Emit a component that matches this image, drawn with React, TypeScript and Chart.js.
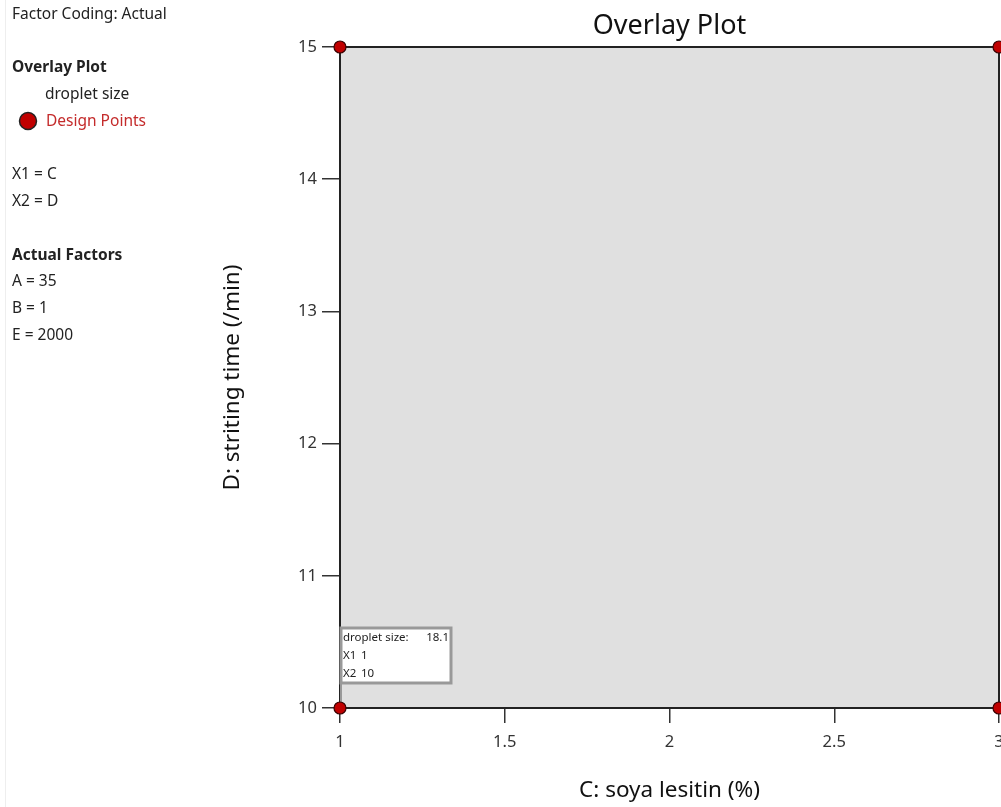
import React, { useEffect, useRef } from "react";
import { Chart, registerables } from "chart.js";

Chart.register(...registerables);

const designX = [1, 1, 3, 3];
const designY = [10, 15, 10, 15];
const xTickMin = 1;
const xTickMax = 3;
const xStep = 0.5;
const yTickMin = 10;
const yTickMax = 15;
const yStep = 1;
const chartTitle = "Overlay Plot";
const xTitle = "C: soya lesitin (%)";
const yTitle = "D: striting time (/min)";
const flagLines = [["droplet size:", "18.1"], ["X1", "1"], ["X2", "10"]];
const flagPoint = { x: 1, y: 10 };
const sideText: { t: string; x: number; y: number; bold?: boolean; red?: boolean }[] = [
  { t: "Factor Coding: Actual", x: 12, y: 15 },
  { t: "Overlay Plot", x: 12, y: 68, bold: true },
  { t: "droplet size", x: 45, y: 95 },
  { t: "Design Points", x: 46, y: 122, red: true },
  { t: "X1 = C", x: 12, y: 175 },
  { t: "X2 = D", x: 12, y: 202 },
  { t: "Actual Factors", x: 12, y: 256, bold: true },
  { t: "A = 35", x: 12, y: 282 },
  { t: "B = 1", x: 12, y: 309 },
  { t: "E = 2000", x: 12, y: 336 },
];

const FONT = '"Noto Sans", "Open Sans", sans-serif';
const RED = "#c00000";

export default function App() {
  const ref = useRef<HTMLCanvasElement | null>(null);
  useEffect(() => {
    document.body.style.overflow = "hidden";
    const canvas = ref.current!;
    const bgPlugin = {
      id: "bgPlugin",
      beforeDraw(chart: any) {
        const ctx = chart.ctx;
        const a = chart.chartArea;
        ctx.save();
        ctx.fillStyle = "#ffffff";
        ctx.fillRect(0, 0, chart.width, chart.height);
        ctx.fillStyle = "#eeeeee";
        ctx.fillRect(5, 0, 1, chart.height);
        ctx.fillStyle = "#e0e0e0";
        ctx.fillRect(a.left, a.top, a.right - a.left, a.bottom - a.top);
        ctx.restore();
      },
      beforeDatasetsDraw(chart: any) {
        const ctx = chart.ctx;
        const a = chart.chartArea;
        ctx.save();
        ctx.strokeStyle = "#222222";
        ctx.lineWidth = 2;
        ctx.strokeRect(a.left, a.top, a.right - a.left, a.bottom - a.top);
        // flag
        const px = chart.scales.x.getPixelForValue(flagPoint.x);
        const py = chart.scales.y.getPixelForValue(flagPoint.y);
        const bx = px + 1;
        const by = py - 80;
        const bw = 110;
        const bh = 55;
        ctx.strokeStyle = "#999999";
        ctx.lineWidth = 2;
        ctx.beginPath();
        ctx.moveTo(px + 1, by + bh);
        ctx.lineTo(px + 1, py);
        ctx.stroke();
        ctx.fillStyle = "#ffffff";
        ctx.fillRect(bx, by, bw, bh);
        ctx.lineWidth = 3;
        ctx.strokeRect(bx, by, bw, bh);
        ctx.fillStyle = "#222222";
        ctx.font = `11.5px ${FONT}`;
        ctx.textBaseline = "middle";
        flagLines.forEach((l, i) => {
          const ly = by + 10 + i * 18;
          ctx.textAlign = "left";
          ctx.fillText(l[0], bx + 2, ly);
          if (i === 0) {
            ctx.textAlign = "right";
            ctx.fillText(l[1], bx + bw - 2, ly);
          } else {
            ctx.fillText(l[1], bx + 20, ly);
          }
        });
        ctx.restore();
      },
      afterDraw(chart: any) {
        const ctx = chart.ctx;
        const a = chart.chartArea;
        ctx.save();
        ctx.fillStyle = "#111111";
        ctx.textAlign = "center";
        ctx.textBaseline = "middle";
        ctx.font = `27px ${FONT}`;
        ctx.fillText(chartTitle, (a.left + a.right) / 2, 26);
        ctx.font = `22.5px ${FONT}`;
        ctx.fillText(xTitle, (a.left + a.right) / 2, 791);
        ctx.save();
        ctx.translate(233, (a.top + a.bottom) / 2);
        ctx.rotate(-Math.PI / 2);
        ctx.fillText(yTitle, 0, 0);
        ctx.restore();
        ctx.textAlign = "left";
        sideText.forEach((s) => {
          ctx.font = `${s.bold ? "bold " : ""}15.5px ${FONT}`;
          ctx.fillStyle = s.red ? "#c42b2b" : "#222222";
          ctx.fillText(s.t, s.x, s.y);
        });
        ctx.beginPath();
        ctx.arc(28, 121, 8.5, 0, Math.PI * 2);
        ctx.fillStyle = RED;
        ctx.fill();
        ctx.lineWidth = 1.5;
        ctx.strokeStyle = "#222222";
        ctx.stroke();
        ctx.restore();
      },
    };
    const chart = new Chart(canvas, {
      type: "scatter",
      data: {
        datasets: [
          {
            label: "Design Points",
            data: designX.map((x, i) => ({ x, y: designY[i] })),
            backgroundColor: RED,
            borderColor: "#3a0000",
            borderWidth: 1.2,
            pointRadius: 6,
            clip: false as any,
          },
        ],
      },
      options: {
        animation: false,
        responsive: false,
        devicePixelRatio: 1,
        layout: { padding: { top: 47, right: 41, bottom: 0, left: 0 } },
        plugins: { legend: { display: false }, tooltip: { enabled: false }, title: { display: false } },
        scales: {
          x: {
            type: "linear",
            min: xTickMin,
            max: xTickMax,
            afterFit: (s: any) => {
              s.height = 99;
            },
            ticks: {
              stepSize: xStep,
              padding: 9,
              color: "#333333",
              font: { family: FONT, size: 16.5 },
              callback: (v: any) => String(v),
            },
            grid: { drawOnChartArea: false, tickLength: 15, color: "#333333", lineWidth: 1.5 },
            border: { display: false },
          },
          y: {
            type: "linear",
            min: yTickMin,
            max: yTickMax,
            afterFit: (s: any) => {
              s.width = 340;
            },
            ticks: {
              stepSize: yStep,
              padding: 5,
              color: "#333333",
              font: { family: FONT, size: 16.5 },
            },
            grid: { drawOnChartArea: false, tickLength: 18, color: "#333333", lineWidth: 1.5 },
            border: { display: false },
          },
        },
      },
      plugins: [bgPlugin],
    } as any);
    return () => chart.destroy();
  }, []);
  return (
    <div style={{ position: "absolute", left: 0, top: 0, width: 1001, height: 807, overflow: "hidden" }}>
      <canvas ref={ref} width={1040} height={807} style={{ width: 1040, height: 807, display: "block" }} />
    </div>
  );
}
